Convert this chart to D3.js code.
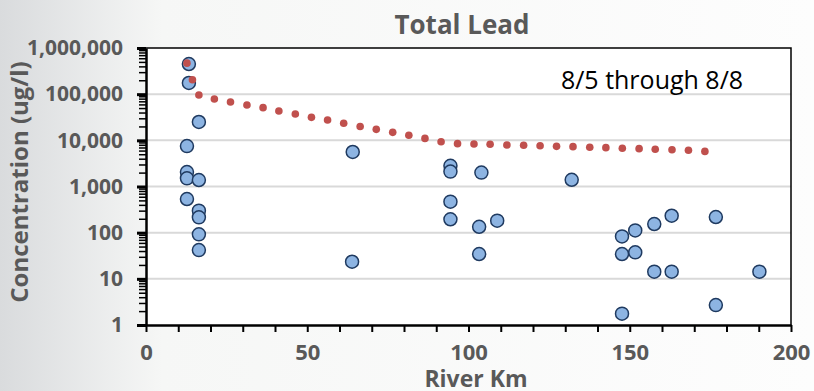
<!DOCTYPE html>
<html>
<head>
<meta charset="utf-8">
<script src="https://cdn.jsdelivr.net/npm/d3@7"></script>
<style>
  body { margin: 0; background: #fff; }
  svg { display: block; }
  text { font-family: "Open Sans", Lato, sans-serif; }
</style>
</head>
<body>
<div id="chartArea"></div>
<script>
// blue sample points: river km and total lead (ug/l)
var sampleKm = [13.3, 13.3, 16.4, 12.7, 12.7, 12.7, 16.4, 12.7, 16.4, 16.4, 16.4, 16.4,
    64.1, 94.4, 94.4, 104, 94.4, 94.4, 103.3, 108.9, 103.3, 63.9,
    132, 147.6, 147.6, 151.7, 151.7, 157.6, 163, 176.7, 157.6, 163, 190.2, 176.7, 147.6];
var sampleLead = [450000, 175000, 25000, 7500, 2050, 1500, 1380, 535, 300, 215, 92, 42,
    5600, 2800, 2100, 2000, 470, 195, 134, 182, 34.5, 23.5,
    1400, 83, 34.5, 112, 37.5, 154, 233, 218, 14.3, 14.3, 14.3, 2.7, 1.76];

// red dotted trend
var trendKm = [12.7, 14.4, 16.4, 21.2, 26.2, 31.3, 36.3, 41.2, 46.3, 51.3, 56.3, 61.3,
    66.4, 71.4, 76.5, 81.5, 86.5, 91.5, 96.6, 101.7, 106.7, 111.9, 117.1, 122.2,
    127.3, 132.4, 137.6, 142.6, 147.7, 152.9, 157.9, 163.1, 168.2, 173.3];
var trendLead = [470000, 205000, 96000, 78600, 67600, 58200, 51000, 43100, 37100, 31500, 27500, 23400,
    20000, 17300, 14900, 12900, 11000, 9340, 8480, 8320, 8200, 7950, 7800, 7650,
    7400, 7300, 7100, 6950, 6750, 6600, 6390, 6250, 6100, 5760];

var xTicks = [0, 50, 100, 150, 200];
var yTicks = [1, 10, 100, 1000, 10000, 100000, 1000000];

var w = 814, h = 391;
var pLeft = 146, pRight = 791, pTop = 48, pBottom = 325;

var svg = d3.select('#chartArea').append('svg')
    .attr('width', w)
    .attr('height', h);

// background fade
var grad = svg.append('defs').append('linearGradient')
    .attr('id', 'bg').attr('x1', 0).attr('x2', 1).attr('y1', 0).attr('y2', 0);
grad.append('stop').attr('offset', 0).attr('stop-color', '#d9dbdd');
grad.append('stop').attr('offset', 0.2).attr('stop-color', '#f6f7f6');
grad.append('stop').attr('offset', 1).attr('stop-color', '#fdfdfd');
svg.append('rect').attr('width', w).attr('height', h).attr('fill', 'url(#bg)');

var xScale = d3.scaleLinear().domain([0, 200]).range([pLeft, pRight]);
var yScale = d3.scaleLog().domain([1, 1000000]).range([pBottom, pTop]);

svg.append('rect')
    .attr('x', pLeft).attr('y', pTop)
    .attr('width', pRight - pLeft).attr('height', pBottom - pTop)
    .attr('fill', '#fff');

// gridlines
svg.selectAll('.grid')
    .data(yTicks.slice(1, -1))
    .enter()
    .append('line')
    .attr('x1', pLeft).attr('x2', pRight)
    .attr('y1', function (d) { return yScale(d); })
    .attr('y2', function (d) { return yScale(d); })
    .attr('stroke', '#d9d9d9')
    .attr('stroke-width', 2);

// frame top/right
svg.append('path')
    .attr('d', 'M' + pLeft + ',' + pTop + 'H' + pRight + 'V' + pBottom)
    .attr('fill', 'none').attr('stroke', '#000').attr('stroke-width', 1.5);

// y axis: major + minor ticks
var minorY = [];
yTicks.slice(0, -1).forEach(function (t) {
    for (var k = 2; k < 10; k++) minorY.push(t * k);
});
var yMinor = svg.append('g').attr('transform', 'translate(' + pLeft + ',0)')
    .call(d3.axisLeft(yScale).tickValues(minorY).tickSize(7).tickFormat(''));
yMinor.select('.domain').remove();
yMinor.selectAll('line').attr('stroke-width', 1.5);

var yAxis = svg.append('g').attr('transform', 'translate(' + pLeft + ',0)')
    .call(d3.axisLeft(yScale).tickValues(yTicks).tickSize(9).tickSizeOuter(0)
        .tickPadding(14).tickFormat(d3.format(',')));
yAxis.select('.domain').attr('stroke-width', 2.5);
yAxis.selectAll('line').attr('stroke-width', 3);
yAxis.selectAll('text')
    .attr('font-size', 21).attr('font-weight', 'bold').attr('fill', '#595959')
    .attr('font-family', '"Open Sans"');

// x axis
var xAxis = svg.append('g').attr('transform', 'translate(0,' + pBottom + ')')
    .call(d3.axisBottom(xScale).ticks(20).tickSize(7).tickSizeOuter(0)
        .tickPadding(12).tickFormat(function (d) { return xTicks.indexOf(d) >= 0 ? d : ''; }));
xAxis.select('.domain').attr('stroke-width', 2.5);
xAxis.selectAll('line').attr('stroke-width', 2);
xAxis.selectAll('text')
    .attr('font-size', 22).attr('font-weight', 'bold').attr('fill', '#595959')
    .attr('font-family', '"Open Sans"');

// samples
svg.selectAll('.pt')
    .data(sampleKm)
    .enter()
    .append('circle')
    .attr('class', 'pt')
    .attr('cx', function (d) { return xScale(d); })
    .attr('cy', function (d, i) { return yScale(sampleLead[i]); })
    .attr('r', 6.5)
    .attr('fill', '#8db4e2')
    .attr('stroke', '#1f3a60')
    .attr('stroke-width', 1.5);

svg.selectAll('.trend')
    .data(trendKm)
    .enter()
    .append('circle')
    .attr('class', 'trend')
    .attr('cx', function (d) { return xScale(d); })
    .attr('cy', function (d, i) { return yScale(trendLead[i]); })
    .attr('r', 3.8)
    .attr('fill', '#c0504d');

// text
svg.append('text')
    .attr('x', 462).attr('y', 34)
    .attr('text-anchor', 'middle')
    .attr('font-size', 26).attr('font-weight', 'bold').attr('fill', '#595959')
    .text('Total Lead');

svg.append('text')
    .attr('x', 652).attr('y', 89)
    .attr('text-anchor', 'middle')
    .attr('font-size', 25).attr('font-family', 'Lato').attr('fill', '#000')
    .text('8/5 through 8/8');

svg.append('text')
    .attr('x', 476).attr('y', 387)
    .attr('text-anchor', 'middle')
    .attr('font-size', 23).attr('font-weight', 'bold').attr('fill', '#595959')
    .text('River Km');

svg.append('text')
    .attr('transform', 'translate(28,182) rotate(-90)')
    .attr('text-anchor', 'middle')
    .attr('font-size', 24).attr('font-weight', 'bold').attr('fill', '#595959')
    .text('Concentration (ug/l)');
</script>
</body>
</html>
